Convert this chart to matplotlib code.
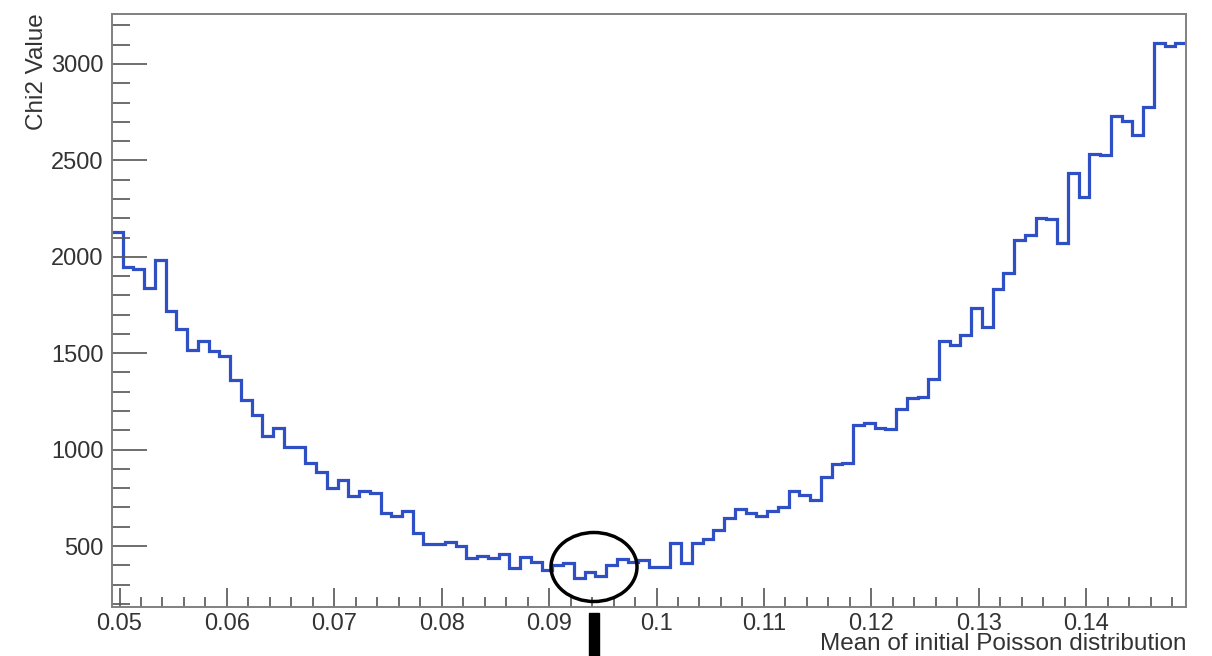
import numpy as np
import matplotlib.pyplot as plt
from matplotlib.patches import Ellipse, Rectangle
from matplotlib.ticker import MultipleLocator, FuncFormatter

plt.rcParams['font.family'] = 'Liberation Sans'

# chi2 of the fit for each scanned Poisson mean (100 bins of 0.001)
chi2 = [2130, 1945, 1935, 1837, 1983, 1720, 1626, 1515, 1565, 1512,
        1486, 1361, 1257, 1180, 1073, 1113, 1015, 1015, 932, 885,
        799, 842, 758, 785, 773, 670, 654, 680, 566, 510,
        512, 522, 500, 436, 448, 436, 458, 384, 445, 419,
        376, 401, 413, 332, 367, 344, 402, 431, 418, 430,
        393, 393, 514, 413, 514, 535, 581, 648, 693, 673,
        656, 680, 702, 785, 765, 737, 859, 925, 932, 1128,
        1136, 1110, 1107, 1211, 1266, 1274, 1365, 1565, 1543, 1594,
        1733, 1634, 1831, 1915, 2087, 2113, 2200, 2195, 2070, 2436,
        2312, 2535, 2528, 2730, 2706, 2632, 2776, 3108, 3094, 3111]
x_lo, x_hi = 0.0493, 0.1493
y_lo, y_hi = 184, 3259
edges = np.linspace(x_lo, x_hi, len(chi2) + 1)

W, H = 1212, 656
fig = plt.figure(figsize=(W / 100, H / 100), dpi=100)
ax = fig.add_axes([112 / W, 1 - 607 / H, (1186 - 112) / W, (607 - 14) / H])

ax.stairs(chi2, edges, baseline=None, color='#2f4fc4', lw=2.3)
ax.set_xlim(x_lo, x_hi)
ax.set_ylim(y_lo, y_hi)

ax.xaxis.set_major_locator(MultipleLocator(0.01))
ax.xaxis.set_minor_locator(MultipleLocator(0.002))
ax.yaxis.set_major_locator(MultipleLocator(500))
ax.yaxis.set_minor_locator(MultipleLocator(100))
ax.xaxis.set_major_formatter(FuncFormatter(lambda v, p: '%g' % round(v, 3)))

for s in ax.spines.values():
    s.set_color('#808080')
    s.set_linewidth(1.4)

ax.tick_params(axis='both', which='both', direction='in', color='#555555',
               width=1.2, labelcolor='#333333', labelsize=17)
ax.tick_params(axis='y', which='major', length=25, pad=6)
ax.tick_params(axis='y', which='minor', length=13)
ax.tick_params(axis='x', which='major', length=14, pad=4)
ax.tick_params(axis='x', which='minor', length=7)

fig.text(37 / W, 1 - 13 / H, 'Chi2 Value', rotation=90, ha='center', va='top',
         fontsize=17.5, color='#333333')
fig.text(1187 / W, 1 / H, 'Mean of initial Poisson distribution',
         ha='right', va='bottom', fontsize=17.5, color='#333333')

# circle around the minimum and the marker below the axis
fig.add_artist(Ellipse((594 / W, 1 - 567 / H), 86 / W, 69 / H,
                       transform=fig.transFigure, fill=False, lw=2.5, ec='black'))
fig.add_artist(Rectangle((589 / W, 0), 10 / W, (656 - 613) / H,
                         transform=fig.transFigure, color='black'))

fig.savefig('out.png', dpi=100)
